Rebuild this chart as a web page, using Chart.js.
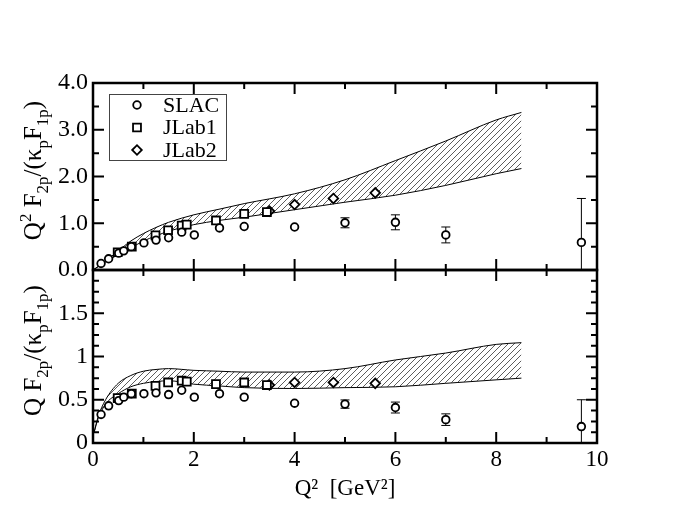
<!DOCTYPE html>
<html>
<head>
<meta charset="utf-8">
<script src="https://cdn.jsdelivr.net/npm/chart.js@4.4.1/dist/chart.umd.min.js"></script>
<style>
  html, body { margin: 0; padding: 0; background: #fff; }
</style>
</head>
<body>
<canvas id="grafico" width="677" height="523"></canvas>
<script>
// Dados
const slacQ2 = [0.16, 0.31, 0.51, 0.61, 0.76, 1.01, 1.25, 1.5, 1.76, 2.01, 2.51, 3.0, 4.0, 5.0, 6.0, 7.0, 9.69];
const slacTop = [0.14, 0.24, 0.36, 0.41, 0.50, 0.58, 0.64, 0.69, 0.81, 0.75, 0.90, 0.93, 0.92, 1.01, 1.02, 0.75, 0.59];
const slacTopErr = [0, 0, 0, 0, 0, 0, 0, 0, 0, 0, 0, 0, 0, 0.107, 0.16, 0.17, 0.94];
const slacBot = [0.33, 0.43, 0.49, 0.53, 0.57, 0.57, 0.58, 0.56, 0.61, 0.53, 0.57, 0.53, 0.46, 0.45, 0.41, 0.27, 0.19];
const slacBotErr = [0, 0, 0, 0, 0, 0, 0, 0, 0, 0, 0, 0, 0, 0.048, 0.063, 0.067, 0.31];

const jlab1Q2 = [0.49, 0.77, 1.24, 1.49, 1.76, 1.86, 2.44, 3.0, 3.45];
const jlab1Top = [0.38, 0.50, 0.74, 0.85, 0.95, 0.97, 1.06, 1.20, 1.24];
const jlab1Bot = [0.52, 0.57, 0.66, 0.70, 0.72, 0.71, 0.68, 0.70, 0.67];

const jlab2Q2 = [3.5, 4.0, 4.77, 5.6];
const jlab2Top = [1.26, 1.40, 1.53, 1.65];
const jlab2Bot = [0.67, 0.70, 0.70, 0.69];

// faixa teorica (hachurada)
const bandaTopQ2 = [0, 0.25, 0.5, 0.75, 1.0, 1.25, 1.5, 2.0, 2.5, 3.0, 4.0, 5.0, 6.0, 7.0, 8.0, 8.5];
const bandaTopSup = [0, 0.19, 0.41, 0.62, 0.78, 0.91, 1.02, 1.18, 1.30, 1.42, 1.63, 1.93, 2.34, 2.76, 3.21, 3.37];
const bandaTopInf = [0, 0.17, 0.33, 0.47, 0.62, 0.73, 0.83, 0.97, 1.06, 1.13, 1.29, 1.45, 1.60, 1.81, 2.06, 2.17];

const bandaBotQ2 = [0.02, 0.1, 0.25, 0.5, 0.75, 1.0, 1.25, 1.5, 2.0, 2.5, 3.0, 4.0, 5.0, 6.0, 7.0, 8.0, 8.5];
const bandaBotSup = [0.12, 0.30, 0.50, 0.69, 0.78, 0.83, 0.85, 0.86, 0.84, 0.83, 0.82, 0.82, 0.86, 0.96, 1.04, 1.14, 1.16];
const bandaBotInf = [0.12, 0.28, 0.45, 0.57, 0.65, 0.69, 0.71, 0.72, 0.68, 0.66, 0.64, 0.63, 0.64, 0.65, 0.69, 0.73, 0.75];

const xTicks = [0, 2, 4, 6, 8, 10];
const yTopTicks = [0, 1, 2, 3, 4];
const yBotTicks = [0, 0.5, 1, 1.5];

const FONTE = '"Liberation Serif", "Times New Roman", serif';

function pontos(xs, ys) {
    return xs.map((x, i) => ({ x: x, y: ys[i] }));
}

// padrao hachurado ///
function criaHachura() {
    const c = document.createElement('canvas');
    c.width = 6;
    c.height = 6;
    const g = c.getContext('2d');
    g.strokeStyle = '#333';
    g.lineWidth = 0.8;
    g.beginPath();
    g.moveTo(0, 6); g.lineTo(6, 0);
    g.moveTo(-1, 1); g.lineTo(1, -1);
    g.moveTo(5, 7); g.lineTo(7, 5);
    g.stroke();
    return g.createPattern(c, 'repeat');
}
const hachura = criaHachura();

function serieMarcador(label, xs, ys, eixo, estilo, raio, err) {
    return {
        label: label,
        data: pontos(xs, ys),
        yAxisID: eixo,
        showLine: false,
        pointStyle: estilo,
        pointRadius: raio,
        pointBorderWidth: 1.8,
        pointBorderColor: '#000',
        pointBackgroundColor: '#fff',
        erros: err || null,
        order: 0
    };
}

function serieBanda(xs, ys, eixo, preenche) {
    return {
        data: pontos(xs, ys),
        yAxisID: eixo,
        showLine: true,
        borderColor: '#000',
        borderWidth: 1,
        pointRadius: 0,
        cubicInterpolationMode: 'monotone',
        fill: preenche ? '+1' : false,
        backgroundColor: hachura,
        order: 2
    };
}

// texto com sub/sobrescritos
function textoRico(ctx, partes, tam) {
    let total = 0;
    partes.forEach(p => {
        ctx.font = (p.s ? tam * 0.68 : tam) + 'px ' + FONTE;
        total += ctx.measureText(p.t).width;
    });
    let cx = -total / 2;
    ctx.textAlign = 'left';
    ctx.textBaseline = 'alphabetic';
    partes.forEach(p => {
        ctx.font = (p.s ? tam * 0.68 : tam) + 'px ' + FONTE;
        let dy = tam * 0.33;
        if (p.s === 'sup') dy -= tam * 0.42;
        if (p.s === 'sub') dy += tam * 0.28;
        ctx.fillText(p.t, cx, dy);
        cx += ctx.measureText(p.t).width;
    });
}

const tituloTop = [
    { t: 'Q' }, { t: '2', s: 'sup' }, { t: ' F' }, { t: '2p', s: 'sub' },
    { t: '/(κ' }, { t: 'p', s: 'sub' }, { t: 'F' }, { t: '1p', s: 'sub' }, { t: ')' }
];
const tituloBot = [
    { t: 'Q F' }, { t: '2p', s: 'sub' },
    { t: '/(κ' }, { t: 'p', s: 'sub' }, { t: 'F' }, { t: '1p', s: 'sub' }, { t: ')' }
];

function marcador(ctx, estilo, x, y, r) {
    ctx.beginPath();
    if (estilo === 'circle') {
        ctx.arc(x, y, r, 0, Math.PI * 2);
    } else if (estilo === 'rect') {
        const s = r * Math.SQRT1_2;
        ctx.rect(x - s, y - s, 2 * s, 2 * s);
    } else {
        ctx.moveTo(x - r, y); ctx.lineTo(x, y - r); ctx.lineTo(x + r, y); ctx.lineTo(x, y + r);
        ctx.closePath();
    }
    ctx.fillStyle = '#fff';
    ctx.fill();
    ctx.stroke();
}

// barras de erro
const pluginErros = {
    id: 'erros',
    beforeDatasetsDraw(chart) {
        const ctx = chart.ctx;
        const xs = chart.scales.x;
        ctx.save();
        ctx.strokeStyle = '#000';
        ctx.lineWidth = 1;
        chart.data.datasets.forEach(ds => {
            if (!ds.erros) return;
            const ys = chart.scales[ds.yAxisID];
            ds.data.forEach((p, i) => {
                const e = ds.erros[i];
                if (!e) return;
                const px = xs.getPixelForValue(p.x);
                let y1 = ys.getPixelForValue(p.y + e);
                let y2 = ys.getPixelForValue(p.y - e);
                const cap1 = y1 >= ys.top;
                const cap2 = y2 <= ys.bottom;
                y1 = Math.max(y1, ys.top);
                y2 = Math.min(y2, ys.bottom);
                ctx.beginPath();
                ctx.moveTo(px, y1); ctx.lineTo(px, y2);
                if (cap1) { ctx.moveTo(px - 4.5, y1); ctx.lineTo(px + 4.5, y1); }
                if (cap2) { ctx.moveTo(px - 4.5, y2); ctx.lineTo(px + 4.5, y2); }
                ctx.stroke();
            });
        });
        ctx.restore();
    }
};

// moldura, ticks internos, titulos e legenda
const pluginMoldura = {
    id: 'moldura',
    afterDraw(chart) {
        const ctx = chart.ctx;
        const xs = chart.scales.x;
        const area = chart.chartArea;
        const paineis = [
            { s: chart.scales.yTop, passo: 0.5, maior: 1 },
            { s: chart.scales.yBot, passo: 0.125, maior: 0.5 }
        ];
        ctx.save();
        ctx.strokeStyle = '#000';
        paineis.forEach(p => {
            const top = p.s.top, bot = p.s.bottom;
            ctx.lineWidth = 2;
            ctx.beginPath();
            for (let k = 1; k < 10; k++) {
                const px = xs.getPixelForValue(k);
                const len = k % 2 === 0 ? 11 : 6;
                ctx.moveTo(px, bot); ctx.lineTo(px, bot - len);
                ctx.moveTo(px, top); ctx.lineTo(px, top + len);
            }
            const n = Math.round((p.s.max - p.s.min) / p.passo);
            for (let k = 1; k < n; k++) {
                const v = p.s.min + k * p.passo;
                const py = p.s.getPixelForValue(v);
                const maior = Math.abs(v / p.maior - Math.round(v / p.maior)) < 1e-6;
                const len = maior ? 11 : 6;
                ctx.moveTo(area.left, py); ctx.lineTo(area.left + len, py);
                ctx.moveTo(area.right, py); ctx.lineTo(area.right - len, py);
            }
            ctx.stroke();
            ctx.lineWidth = 2.5;
            ctx.strokeRect(area.left, top, area.right - area.left, bot - top);
        });

        // titulos dos eixos y
        ctx.fillStyle = '#000';
        [[chart.scales.yTop, tituloTop], [chart.scales.yBot, tituloBot]].forEach(([s, partes]) => {
            ctx.save();
            ctx.translate(33, (s.top + s.bottom) / 2 - 6);
            ctx.rotate(-Math.PI / 2);
            textoRico(ctx, partes, 25);
            ctx.restore();
        });

        // legenda
        ctx.lineWidth = 1;
        ctx.strokeStyle = '#444';
        ctx.strokeRect(109.5, 94.5, 117, 66);
        ctx.strokeStyle = '#000';
        ctx.lineWidth = 1.8;
        const itens = chart.data.datasets.filter(d => d.label && d.yAxisID === 'yTop');
        ctx.font = '22px ' + FONTE;
        ctx.textBaseline = 'middle';
        ctx.textAlign = 'left';
        itens.forEach((d, i) => {
            const y = 105 + i * 22.5;
            marcador(ctx, d.pointStyle, 137, y, d.pointRadius);
            ctx.fillStyle = '#000';
            ctx.fillText(d.label, 163, y + 1);
        });
        ctx.restore();
    }
};

const ctx = document.getElementById('grafico').getContext('2d');

const grafico = new Chart(ctx, {
    type: 'scatter',
    data: {
        datasets: [
            serieMarcador('SLAC', slacQ2, slacTop, 'yTop', 'circle', 3.8, slacTopErr),
            serieMarcador('JLab1', jlab1Q2, jlab1Top, 'yTop', 'rect', 5.6),
            serieMarcador('JLab2', jlab2Q2, jlab2Top, 'yTop', 'rectRot', 4.8),
            serieMarcador(null, slacQ2, slacBot, 'yBot', 'circle', 3.8, slacBotErr),
            serieMarcador(null, jlab1Q2, jlab1Bot, 'yBot', 'rect', 5.6),
            serieMarcador(null, jlab2Q2, jlab2Bot, 'yBot', 'rectRot', 4.8),
            serieBanda(bandaTopQ2, bandaTopSup, 'yTop', true),
            serieBanda(bandaTopQ2, bandaTopInf, 'yTop', false),
            serieBanda(bandaBotQ2, bandaBotSup, 'yBot', true),
            serieBanda(bandaBotQ2, bandaBotInf, 'yBot', false)
        ]
    },
    options: {
        responsive: false,
        animation: false,
        devicePixelRatio: 1,
        layout: { padding: { top: 83, right: 80, left: 0, bottom: 0 } },
        plugins: {
            legend: { display: false },
            tooltip: { enabled: false }
        },
        scales: {
            x: {
                type: 'linear',
                position: 'bottom',
                min: 0,
                max: 10,
                grid: { display: false, drawTicks: false },
                border: { display: false },
                afterBuildTicks: s => { s.ticks = xTicks.map(v => ({ value: v })); },
                ticks: { color: '#000', padding: 3, autoSkip: false, maxRotation: 0, font: { family: FONTE, size: 23 } },
                title: {
                    display: true,
                    text: 'Q²  [GeV²]',
                    color: '#000',
                    font: { family: FONTE, size: 23 },
                    padding: { top: 0, bottom: 20 }
                },
                afterFit: s => { s.height = 80; }
            },
            yTop: {
                type: 'linear',
                position: 'left',
                stack: 'paineis',
                stackWeight: 187,
                weight: 1,
                min: 0,
                max: 4,
                grid: { display: false, drawTicks: false },
                border: { display: false },
                afterBuildTicks: s => { s.ticks = yTopTicks.map(v => ({ value: v })); },
                ticks: { color: '#000', padding: 5, autoSkip: false, callback: v => v.toFixed(1), font: { family: FONTE, size: 24 } },
                afterFit: s => { s.width = 93; }
            },
            yBot: {
                type: 'linear',
                position: 'left',
                stack: 'paineis',
                stackWeight: 173,
                weight: 0,
                min: 0,
                max: 2,
                grid: { display: false, drawTicks: false },
                border: { display: false },
                afterBuildTicks: s => { s.ticks = yBotTicks.map(v => ({ value: v })); },
                ticks: { color: '#000', padding: 5, autoSkip: false, callback: v => String(v), font: { family: FONTE, size: 24 } },
                afterFit: s => { s.width = 93; }
            }
        }
    },
    plugins: [pluginErros, pluginMoldura]
});
</script>
</body>
</html>
